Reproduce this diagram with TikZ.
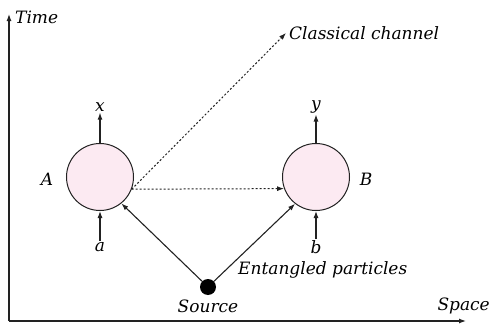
\documentclass[tikz,border=0pt]{standalone}
\usepackage{fontspec}
\setmainfont{DejaVu Serif}
\usepackage{tikz}
\usetikzlibrary{arrows.meta,positioning}
\definecolor{LabPink}{HTML}{FCEAF2}
\definecolor{LabInk}{HTML}{222222}

\begin{document}
\begin{tikzpicture}[x=1pt,y=1pt,
  font=\fontsize{17}{20}\selectfont\itshape,
  tip/.style={-{Latex[length=7pt,width=5pt]},draw=LabInk,line width=1.1pt},
  lab/.style={draw=LabInk,fill=LabPink,circle,minimum size=67pt,inner sep=0pt,line width=1pt},
  chan/.style={tip,dash pattern=on 2pt off 2pt,line width=1pt}]
  \useasboundingbox (0,0) rectangle (491,325);
  % axes
  \coordinate (origin) at (9,4);
  \coordinate (ttip) at (9,311);
  \coordinate (stip) at (466,4);
  \draw[tip,line width=1.2pt] (origin) -- (ttip);
  \draw[tip,line width=1.2pt] (origin) -- (stip);
  \node[anchor=west,inner sep=0pt] (time) at (15,308) {Time};
  \node[anchor=east,inner sep=0pt] (space) at (490,19) {Space};
  % labs
  \node[lab] (A) at (100,148) {};
  \node[lab] (B) at (316,148) {};
  \node (labA) at (47,146) {A};
  \node (labB) at (366,146) {B};
  \node[inner sep=1pt] (x) at (100,218) {x};
  \node[inner sep=1pt] (a) at (100,78) {a};
  \node[inner sep=1pt] (y) at (316,218) {y};
  \node[inner sep=1pt] (b) at (316,78) {b};
  \draw[tip] (A.north) -- (x.south);
  \draw[tip] (a.north) -- (A.south);
  \draw[tip] (B.north) -- (y.south);
  \draw[tip] (b.north) -- (B.south);
  % source
  \node[circle,fill=black,minimum size=16pt,inner sep=0pt] (src) at (208,38) {};
  \node[inner sep=0pt] (srclab) at (208,19) {Source};
  \node[anchor=west,inner sep=0pt] (ent) at (238,55) {Entangled particles};
  \draw[tip] (src) -- (A.-51);
  \draw[tip] (src) -- (B.-128);
  % classical channel
  \coordinate (cc) at (286,292);
  \node[anchor=west,inner sep=0pt] (cclab) at (289,292) {Classical channel};
  \draw[chan] (A.-21) -- (cc);
  \draw[chan] (A.-21) -- (B.200);
\end{tikzpicture}
\end{document}
